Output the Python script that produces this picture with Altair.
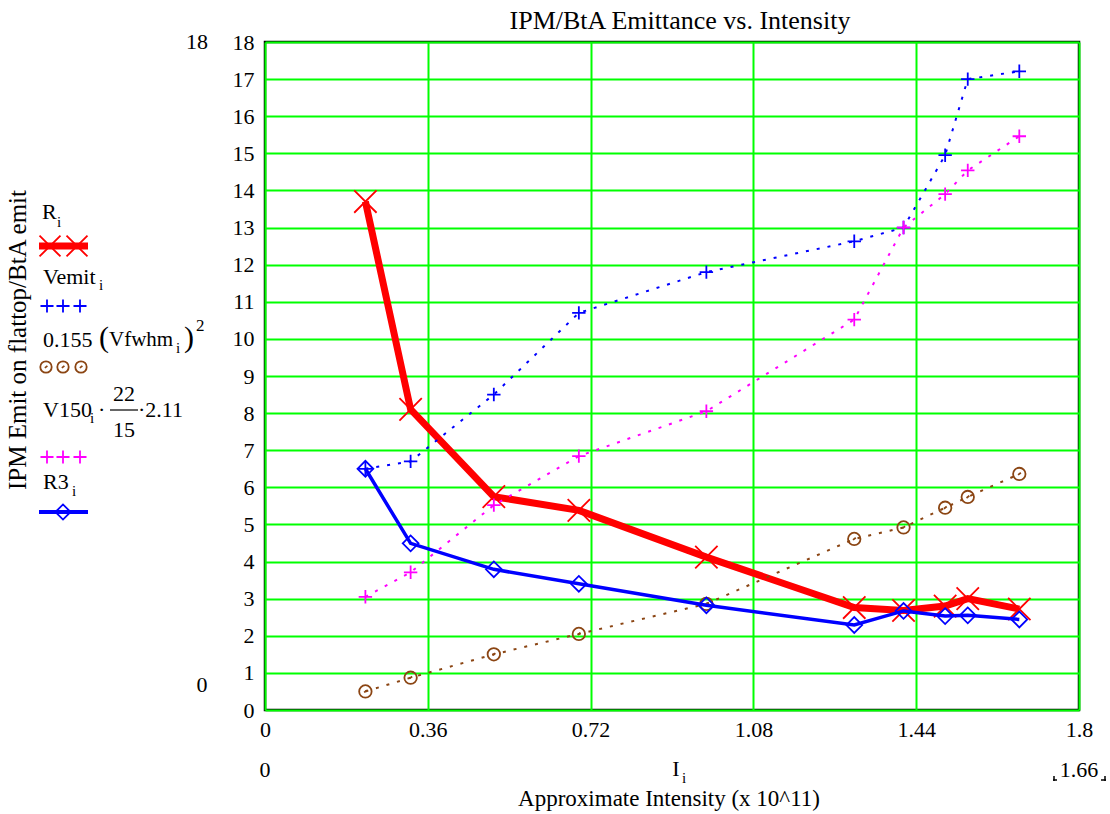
import altair as alt
import pandas as pd

# ---- data ----
intensity = [0.222, 0.322, 0.506, 0.694, 0.976, 1.303, 1.412, 1.504, 1.554, 1.668]
r_emit = [13.7, 8.1, 5.75, 5.38, 4.12, 2.76, 2.68, 2.8, 3.0, 2.72]
vemit = [6.5, 6.7, 8.5, 10.7, 11.8, 12.63, 13.0, 14.95, 17.0, 17.21]
vfwhm_term = [0.5, 0.87, 1.5, 2.05, 2.86, 4.61, 4.92, 5.45, 5.74, 6.36]
v150_term = [3.05, 3.71, 5.52, 6.84, 8.05, 10.52, 13.0, 13.9, 14.54, 15.46]
r3_emit = [6.5, 4.49, 3.79, 3.4, 2.82, 2.29, 2.67, 2.53, 2.55, 2.44]
x_ticks = [0, 0.36, 0.72, 1.08, 1.44, 1.8]
y_ticks = list(range(0, 19))

df = pd.DataFrame({
    "I": intensity,
    "R": r_emit,
    "Vemit": vemit,
    "Vfwhm": vfwhm_term,
    "V150": v150_term,
    "R3": r3_emit,
})

LEFT, TOP, W, H = 265, 42, 814, 668
FONT = "Liberation Serif"
X_SHAPE = "M-1,-1L1,1M-1,1L1,-1"
PLUS_SHAPE = "M-1,0L1,0M0,-1L0,1"
CIRC_SHAPE = "M1,0A1,1,0,1,1,-1,0A1,1,0,1,1,1,0M-0.2,0.15L0.25,-0.2"
GRID = "#00ff00"
RED, BLUE, BROWN, MAG = "#ff0000", "#0000ff", "#8b4513", "#ff00ff"

xenc = alt.X("I:Q", scale=alt.Scale(domain=[0, 1.8], nice=False, zero=False),
             axis=alt.Axis(values=x_ticks, format=".2~f", title=None, labelPadding=9,
                           labelFlush=False))
yaxis = alt.Axis(values=y_ticks, title=None, labelPadding=11)
yscale = alt.Scale(domain=[0, 18], nice=False, zero=False)

base = alt.Chart(df)


def series(field, color, width, dash, shape, size, mwidth):
    kw = dict(color=color, strokeWidth=width)
    if dash:
        kw["strokeDash"] = dash
    y = alt.Y(f"{field}:Q", scale=yscale, axis=yaxis)
    line = base.mark_line(**kw).encode(x=xenc, y=y)
    pts = base.mark_point(shape=shape, size=size, filled=False, color=color,
                          strokeWidth=mwidth, opacity=1).encode(x=xenc, y=y)
    return [line, pts]


one = pd.DataFrame({"k": [0]})


def txt(s, x, y, size=22, align="left", baseline="middle", angle=None, color="black"):
    kw = dict(text=s, font=FONT, fontSize=size, align=align, baseline=baseline, color=color)
    if angle is not None:
        kw["angle"] = angle
    return alt.Chart(one).mark_text(**kw).encode(x=alt.value(x - LEFT), y=alt.value(y - TOP))


def rule(x1, x2, y, color, width):
    return alt.Chart(one).mark_rule(color=color, strokeWidth=width).encode(
        x=alt.value(x1 - LEFT), x2=alt.value(x2 - LEFT), y=alt.value(y - TOP))


def vrule(x, y1, y2, color, width):
    return alt.Chart(one).mark_rule(color=color, strokeWidth=width).encode(
        x=alt.value(x - LEFT), y=alt.value(y1 - TOP), y2=alt.value(y2 - TOP))


def sym(shape, x, y, size, color, width):
    return alt.Chart(one).mark_point(shape=shape, size=size, filled=False, color=color,
                                     strokeWidth=width, opacity=1).encode(
        x=alt.value(x - LEFT), y=alt.value(y - TOP))


layers = []
layers += series("R", RED, 7, None, X_SHAPE, 500, 1.8)
layers += series("Vemit", BLUE, 2, [3, 8], PLUS_SHAPE, 180, 1.8)
layers += series("Vfwhm", BROWN, 2, [3, 8], CIRC_SHAPE, 155, 1.8)
layers += series("V150", MAG, 2, [3, 8], PLUS_SHAPE, 180, 1.8)
layers += series("R3", BLUE, 3.5, None, "diamond", 250, 1.8)

# title and extra axis annotations
layers.append(txt("IPM/BtA Emittance vs. Intensity", 680, 21, size=26, align="center"))
layers.append(txt("18", 197, 42, align="center"))
layers.append(txt("0", 202, 685, align="center"))
layers.append(txt("0", 265, 770, align="center"))
layers.append(txt("I", 676, 769, align="center"))
layers.append(txt("i", 684, 778, size=15, align="center"))
layers.append(txt("1.66", 1079, 770, align="center"))
layers.append(rule(1053, 1057, 780, "black", 1.5))
layers.append(vrule(1054, 776, 781, "black", 1.5))
layers.append(rule(1101, 1106, 780, "black", 1.5))
layers.append(vrule(1105, 776, 781, "black", 1.5))
layers.append(txt("Approximate Intensity (x 10^11)", 669, 799, size=23, align="center"))
layers.append(txt("IPM Emit on flattop/BtA emit", 18, 340, size=25, align="center", angle=270))

# legend (Mathcad style)
layers.append(txt("R", 42, 212))
layers.append(txt("i", 57, 222, size=15))
layers.append(rule(39, 88, 246, RED, 7))
layers.append(sym(X_SHAPE, 50, 246, 440, RED, 1.8))
layers.append(sym(X_SHAPE, 77, 246, 440, RED, 1.8))

layers.append(txt("Vemit", 43, 277))
layers.append(txt("i", 99, 285, size=15))
for xx in (47, 63, 80):
    layers.append(sym(PLUS_SHAPE, xx, 306, 170, BLUE, 1.8))

layers.append(txt("0.155", 43, 340))
layers.append(txt("(", 99, 338, size=30))
layers.append(txt("Vfwhm", 109, 340, size=21))
layers.append(txt("i", 176, 348, size=15))
layers.append(txt(")", 184, 338, size=30))
layers.append(txt("2", 196, 326, size=17))
for xx in (46, 63, 81):
    layers.append(sym(CIRC_SHAPE, xx, 367, 130, BROWN, 1.8))

layers.append(txt("V150", 43, 410))
layers.append(txt("i", 90, 418, size=15))
layers.append(txt("·", 98, 410))
layers.append(txt("22", 124, 394, align="center"))
layers.append(rule(110, 138, 410, "black", 1.2))
layers.append(txt("15", 124, 430, align="center"))
layers.append(txt("·2.11", 138, 410))
for xx in (47, 63, 80):
    layers.append(sym(PLUS_SHAPE, xx, 457, 170, MAG, 1.8))

layers.append(txt("R3", 43, 482))
layers.append(txt("i", 72, 491, size=15))
layers.append(rule(39, 88, 512, BLUE, 4))
layers.append(sym("diamond", 63, 512, 230, BLUE, 1.8))

chart = alt.layer(*layers).properties(
    width=W, height=H,
    background="white",
    autosize=alt.AutoSizeParams(type="none"),
    padding={"left": LEFT, "top": TOP, "right": 1110 - LEFT - W, "bottom": 814 - TOP - H},
).configure_axis(
    labelFont=FONT, labelFontSize=22, labelColor="black",
    grid=True, gridColor=GRID, gridWidth=2, gridOpacity=1,
    ticks=False, domain=False,
).configure_view(
    stroke="black", strokeWidth=2.5
)

chart.save("out.html", embed_options={"renderer": "svg", "actions": False})
